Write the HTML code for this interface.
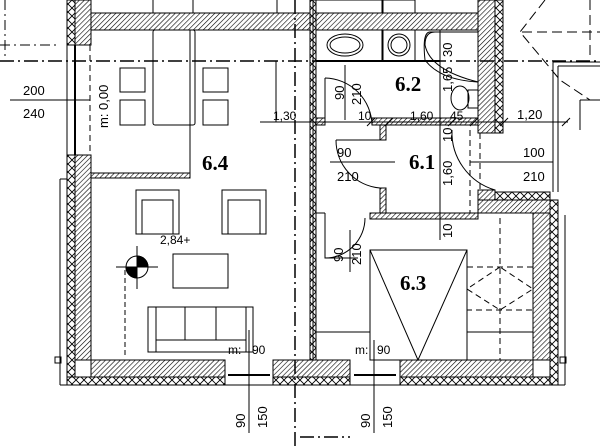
<!DOCTYPE html>
<html><head><style>html,body{margin:0;padding:0;background:#fff}svg{display:block}</style></head><body>
<svg width="600" height="447" viewBox="0 0 600 447" xmlns="http://www.w3.org/2000/svg" font-family="Liberation Sans, sans-serif">
<defs>
<pattern id="h" patternUnits="userSpaceOnUse" width="3.5" height="3.5" patternTransform="rotate(45)"><rect width="3.5" height="3.5" fill="#fff"/><line x1="0" y1="0" x2="0" y2="3.5" stroke="#000" stroke-width="1.2"/></pattern>
<pattern id="x" patternUnits="userSpaceOnUse" width="8" height="8"><rect width="8" height="8" fill="#fff"/><path d="M0 0L8 8M8 0L0 8" stroke="#000" stroke-width="0.9"/></pattern>
</defs>
<g stroke="#000" fill="none" stroke-width="1">
<rect x="91" y="13" width="389" height="17" fill="url(#h)"/>
<line x1="153" y1="0" x2="153" y2="13"/><line x1="193" y1="0" x2="193" y2="13"/><line x1="277" y1="0" x2="277" y2="13"/><line x1="295" y1="0" x2="295" y2="13"/>
<rect x="67" y="0" width="8" height="45" fill="url(#x)"/><rect x="75" y="0" width="16" height="45" fill="url(#h)"/>
<rect x="67" y="155" width="8" height="230" fill="url(#x)"/><rect x="75" y="155" width="16" height="205" fill="url(#h)"/>
<line x1="67" y1="45" x2="67" y2="155"/><line x1="75" y1="45" x2="75" y2="155" stroke-width="2"/>
<line x1="90" y1="45" x2="90" y2="155" stroke-dasharray="6,4"/>
<line x1="60" y1="179" x2="60" y2="385"/><line x1="60" y1="179" x2="67" y2="179"/>
<rect x="55" y="357" width="6" height="6"/>
<rect x="67" y="377" width="158" height="8" fill="url(#x)"/><rect x="91" y="360" width="134" height="17" fill="url(#h)"/>
<rect x="273" y="377" width="77" height="8" fill="url(#x)"/><rect x="273" y="360" width="77" height="17" fill="url(#h)"/>
<rect x="400" y="377" width="158" height="8" fill="url(#x)"/><rect x="400" y="360" width="133" height="17" fill="url(#h)"/>
<line x1="60" y1="385" x2="565" y2="385"/>
<line x1="225" y1="360" x2="225" y2="385"/><line x1="273" y1="360" x2="273" y2="385"/>
<line x1="228" y1="375" x2="270" y2="375" stroke-width="2"/>
<line x1="350" y1="360" x2="350" y2="385"/><line x1="400" y1="360" x2="400" y2="385"/>
<line x1="354" y1="375" x2="396" y2="375" stroke-width="2"/>
<rect x="533" y="213" width="17" height="147" fill="url(#h)"/>
<rect x="550" y="200" width="8" height="185" fill="url(#x)"/>
<line x1="565" y1="215" x2="565" y2="385"/><rect x="560" y="357" width="6" height="6"/>
<rect x="478" y="0" width="17" height="133" fill="url(#h)"/>
<rect x="495" y="0" width="8" height="133" fill="url(#x)"/>
<rect x="478" y="190" width="17" height="23" fill="url(#h)"/>
<rect x="478" y="200" width="72" height="13" fill="url(#h)"/>
<rect x="495" y="192" width="55" height="8" fill="url(#x)"/>
<rect x="310" y="0" width="6" height="360" fill="url(#x)"/>
<line x1="313" y1="0" x2="313" y2="360"/>
<rect x="316" y="118" width="9" height="7" fill="url(#h)"/>
<rect x="372" y="118" width="106" height="7" fill="url(#h)"/>
<rect x="380" y="125" width="6" height="15" fill="url(#h)"/>
<line x1="325" y1="78" x2="325" y2="125"/>
<rect x="380" y="188" width="6" height="27" fill="url(#h)"/>
<rect x="370" y="213" width="108" height="6" fill="url(#h)"/>
<line x1="316" y1="213" x2="325" y2="213"/>
<path d="M325 78 A 48 48 0 0 1 372 125"/>
<path d="M336 140 A 48 48 0 0 0 380 188"/>
<line x1="336" y1="140" x2="380" y2="140"/>
<path d="M452 130 A 60 60 0 0 0 495 190"/>
<path d="M325 213 L325 258 L358 258"/>
<path d="M325 258 A 40 40 0 0 0 365 218"/>
<line x1="190" y1="30" x2="190" y2="178"/>
<rect x="91" y="173" width="99" height="5" fill="url(#h)"/>
<rect x="153" y="30" width="42" height="95" rx="2"/>
<rect x="120" y="68" width="25" height="24"/><rect x="120" y="100" width="25" height="25"/>
<rect x="203" y="68" width="25" height="24"/><rect x="203" y="100" width="25" height="25"/>
<rect x="136" y="190" width="43" height="44"/><rect x="142" y="200" width="31" height="34"/>
<rect x="222" y="190" width="44" height="44"/><rect x="228" y="200" width="32" height="34"/>
<rect x="173" y="254" width="55" height="34"/>
<rect x="148" y="307" width="105" height="45"/><line x1="156" y1="307" x2="156" y2="352"/><line x1="246" y1="307" x2="246" y2="352"/>
<line x1="156" y1="340" x2="246" y2="340"/><line x1="185" y1="307" x2="185" y2="340"/><line x1="216" y1="307" x2="216" y2="340"/>
<circle cx="137" cy="267" r="11"/>
<path d="M137 267 L137 256 A11 11 0 0 1 148 267 Z M137 267 L137 278 A11 11 0 0 1 126 267 Z" fill="#000"/>
<line x1="116" y1="267" x2="158" y2="267"/><line x1="137" y1="246" x2="137" y2="289"/>
<line x1="125" y1="270" x2="125" y2="358" stroke-dasharray="5,3"/>
<rect x="316" y="30" width="66" height="31"/><ellipse cx="345" cy="45" rx="18" ry="11"/><ellipse cx="345" cy="45" rx="15" ry="8"/>
<rect x="383" y="30" width="32" height="31"/><circle cx="399" cy="45" r="11"/><circle cx="399" cy="45" r="8"/>
<rect x="316" y="0" width="66" height="13"/><rect x="383" y="0" width="32" height="13"/>
<path d="M478 32 L435 32 Q425 32 425 45 Q430 70 478 82"/>
<path d="M478 32 L430 32 Q422 32 425 60 Q440 80 478 82" />
<ellipse cx="460" cy="98" rx="9" ry="12"/><rect x="468" y="90" width="10" height="18"/>
<line x1="316" y1="61" x2="440" y2="61" stroke-width="2"/>
<rect x="370" y="250" width="97" height="110"/>
<path d="M370 250 L418 360 L467 250"/>
<line x1="316" y1="332" x2="370" y2="332"/>
<line x1="467" y1="332" x2="533" y2="332"/>
<g stroke-dasharray="6,4">
<rect x="467" y="267" width="66" height="43"/>
<path d="M500 267 L467 289 L500 310 L533 289 Z"/>
<line x1="500" y1="218" x2="500" y2="360"/>
<line x1="470" y1="130" x2="470" y2="213"/>
<line x1="480" y1="133" x2="480" y2="190"/>
</g>
<line x1="553" y1="62" x2="553" y2="192"/><line x1="558" y1="66" x2="558" y2="192"/>
<line x1="553" y1="62" x2="600" y2="62"/><line x1="558" y1="66" x2="600" y2="66"/>
<line x1="580" y1="100" x2="600" y2="100"/><line x1="580" y1="100" x2="580" y2="130"/>
<g stroke-dasharray="10,5">
<path d="M545 0 L520 32 L560 80 L590 100"/><line x1="522" y1="32" x2="600" y2="32"/>
<line x1="590" y1="0" x2="590" y2="60"/>
</g>
<g stroke-dasharray="14,4,2,4" stroke-width="1.5">
<line x1="0" y1="61" x2="600" y2="61"/>
<line x1="295" y1="0" x2="295" y2="447"/>
<line x1="300" y1="437" x2="350" y2="437"/>
</g>
<g stroke-dasharray="10,4,2,4"><line x1="5" y1="0" x2="5" y2="60"/><line x1="0" y1="45" x2="60" y2="45"/></g>
<line x1="10" y1="100" x2="90" y2="100"/>
<line x1="260" y1="122" x2="568" y2="122"/>
<line x1="276" y1="61" x2="276" y2="122"/>
<line x1="345" y1="65" x2="345" y2="120"/>
<line x1="330" y1="162" x2="395" y2="162"/>
<line x1="470" y1="162" x2="553" y2="162"/>
<line x1="440" y1="30" x2="440" y2="240"/>
<line x1="350" y1="230" x2="350" y2="272"/>
<line x1="249" y1="330" x2="249" y2="433"/>
<line x1="374" y1="340" x2="374" y2="433"/>
<path d="M367 126 L375 118 M385 126 L393 118 M448 126 L456 118 M470 126 L478 118 M500 126 L508 118 M562 126 L570 118"/>
</g>
<g fill="#000" font-size="13">
<text x="23" y="95">200</text><text x="23" y="118">240</text>
<text x="273" y="120" font-size="12">1,30</text>
<text x="358" y="120" font-size="12">10</text>
<text x="410" y="120" font-size="12">1,60</text>
<text x="450" y="120" font-size="12">45</text>
<text x="517" y="119">1,20</text>
<text x="337" y="157">90</text><text x="337" y="181">210</text>
<text x="523" y="157">100</text><text x="523" y="181">210</text>
<text x="160" y="244" font-size="12">2,84+</text>
<text x="228" y="354" font-size="12">m:</text><text x="252" y="354" font-size="12">90</text>
<text x="355" y="354" font-size="12">m:</text><text x="377" y="354" font-size="12">90</text>
<text transform="translate(108,128) rotate(-90)">m:  0,00</text>
<text transform="translate(344,100) rotate(-90)">90</text><text transform="translate(361,105) rotate(-90)">210</text>
<text transform="translate(343,262) rotate(-90)">90</text><text transform="translate(361,265) rotate(-90)">210</text>
<text transform="translate(452,57) rotate(-90)">30</text>
<text transform="translate(452,92) rotate(-90)">1,65</text>
<text transform="translate(452,142) rotate(-90)">10</text>
<text transform="translate(452,186) rotate(-90)">1,60</text>
<text transform="translate(452,238) rotate(-90)">10</text>
<text transform="translate(245,428) rotate(-90)">90</text><text transform="translate(267,428) rotate(-90)">150</text>
<text transform="translate(370,428) rotate(-90)">90</text><text transform="translate(392,428) rotate(-90)">150</text>
<g font-family="Liberation Serif, serif" font-weight="bold" font-size="21">
<text x="202" y="170">6.4</text><text x="395" y="91">6.2</text><text x="409" y="169">6.1</text><text x="400" y="290">6.3</text>
</g>
</g>
</svg>
</body></html>
